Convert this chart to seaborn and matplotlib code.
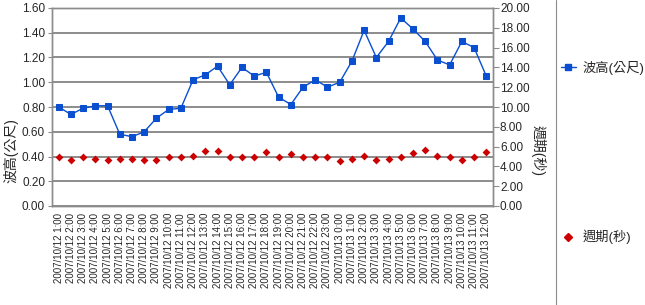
import matplotlib
matplotlib.use("Agg")
import matplotlib.pyplot as plt
import seaborn as sns
import pandas as pd
from matplotlib.lines import Line2D

sns.set_style("white")
plt.rcParams['font.family'] = ['Liberation Sans', 'Noto Sans CJK TC', 'DejaVu Sans']

labels = [f"2007/10/12 {h}:00" for h in range(1, 24)] + [f"2007/10/13 {h}:00" for h in range(0, 13)]
wave = [0.80, 0.74, 0.79, 0.81, 0.81, 0.58, 0.56, 0.60, 0.71, 0.78, 0.79, 1.02,
        1.06, 1.13, 0.98, 1.12, 1.05, 1.08, 0.88, 0.82, 0.96, 1.02, 0.96, 1.00,
        1.17, 1.42, 1.20, 1.33, 1.52, 1.43, 1.33, 1.18, 1.14, 1.33, 1.28, 1.05]
period = [5.0, 4.6, 5.0, 4.7, 4.6, 4.7, 4.7, 4.6, 4.6, 5.0, 4.9, 5.1,
          5.6, 5.6, 4.9, 5.0, 5.0, 5.5, 5.0, 5.3, 5.0, 5.0, 4.9, 4.5,
          4.7, 5.1, 4.6, 4.7, 4.9, 5.4, 5.7, 5.1, 4.9, 4.6, 5.0, 5.5]

df = pd.DataFrame({"x": range(len(labels)), "wave": wave, "period": period})

fig = plt.figure(figsize=(6.45, 3.05), dpi=100)
ax = fig.add_axes([52/645, 1-206/305, (493-52)/645, (206-8)/305])
ax2 = ax.twinx()

blue = "#0a4fd0"
red = "#cc0000"
sns.lineplot(data=df, x="x", y="wave", ax=ax, color=blue, marker="s", markersize=4.5,
             markeredgecolor=blue, linewidth=1.0, zorder=3)
sns.scatterplot(data=df, x="x", y="period", ax=ax2, color=red, marker="D", s=16,
                edgecolor=red, linewidth=0, zorder=3)

ax.set_xlim(-0.55, len(labels) - 0.45)
ax.set_ylim(0, 1.6)
ax2.set_ylim(0, 20)
ax.set_yticks([i * 0.2 for i in range(9)])
ax.set_yticklabels([f"{i*0.2:.2f}" for i in range(9)], fontsize=8.5)
ax2.set_yticks([i * 2 for i in range(11)])
ax2.set_yticklabels([f"{i*2:.2f}" for i in range(11)], fontsize=8.5)
ax.set_xticks(range(len(labels)))
ax.set_xticklabels(labels, rotation=90, fontsize=7)

ax.grid(axis="y", color="#8c8c8c", linewidth=1.4)
ax.set_axisbelow(True)
for a in (ax, ax2):
    for s in a.spines.values():
        s.set_color("#8c8c8c")
        s.set_linewidth(1.0)
ax.tick_params(axis="x", length=3, color="#8c8c8c", pad=2, direction="out")
ax.tick_params(axis="y", length=3, color="#8c8c8c", pad=2, left=True)
ax2.tick_params(axis="y", length=4, color="#8c8c8c", pad=1, right=True)

ax.set_xlabel("")
ax.set_ylabel("波高(公尺)", fontsize=10)
ax.yaxis.set_label_coords(-0.075, 0.28)
ax2.set_ylabel("週期(秒)", fontsize=10, rotation=-90)
ax2.yaxis.set_label_coords(1.12, 0.28)

h1 = Line2D([], [], color=blue, marker="s", markersize=4.5, linewidth=1.0)
h2 = Line2D([], [], color=red, marker="D", markersize=4, linewidth=0)
kw = dict(frameon=False, fontsize=9.5, handlelength=1.1, handletextpad=0.5,
          borderaxespad=0, borderpad=0, loc="center left")
fig.legend([h1], ["波高(公尺)"], bbox_to_anchor=(561/645, 1-68/305), **kw)
fig.legend([h2], ["週期(秒)"], bbox_to_anchor=(561/645, 1-237/305), **kw)
fig.add_artist(Line2D([556/645, 556/645], [0, 1], color="#8c8c8c", linewidth=0.8,
                      transform=fig.transFigure))

fig.savefig("out.png", dpi=100)
